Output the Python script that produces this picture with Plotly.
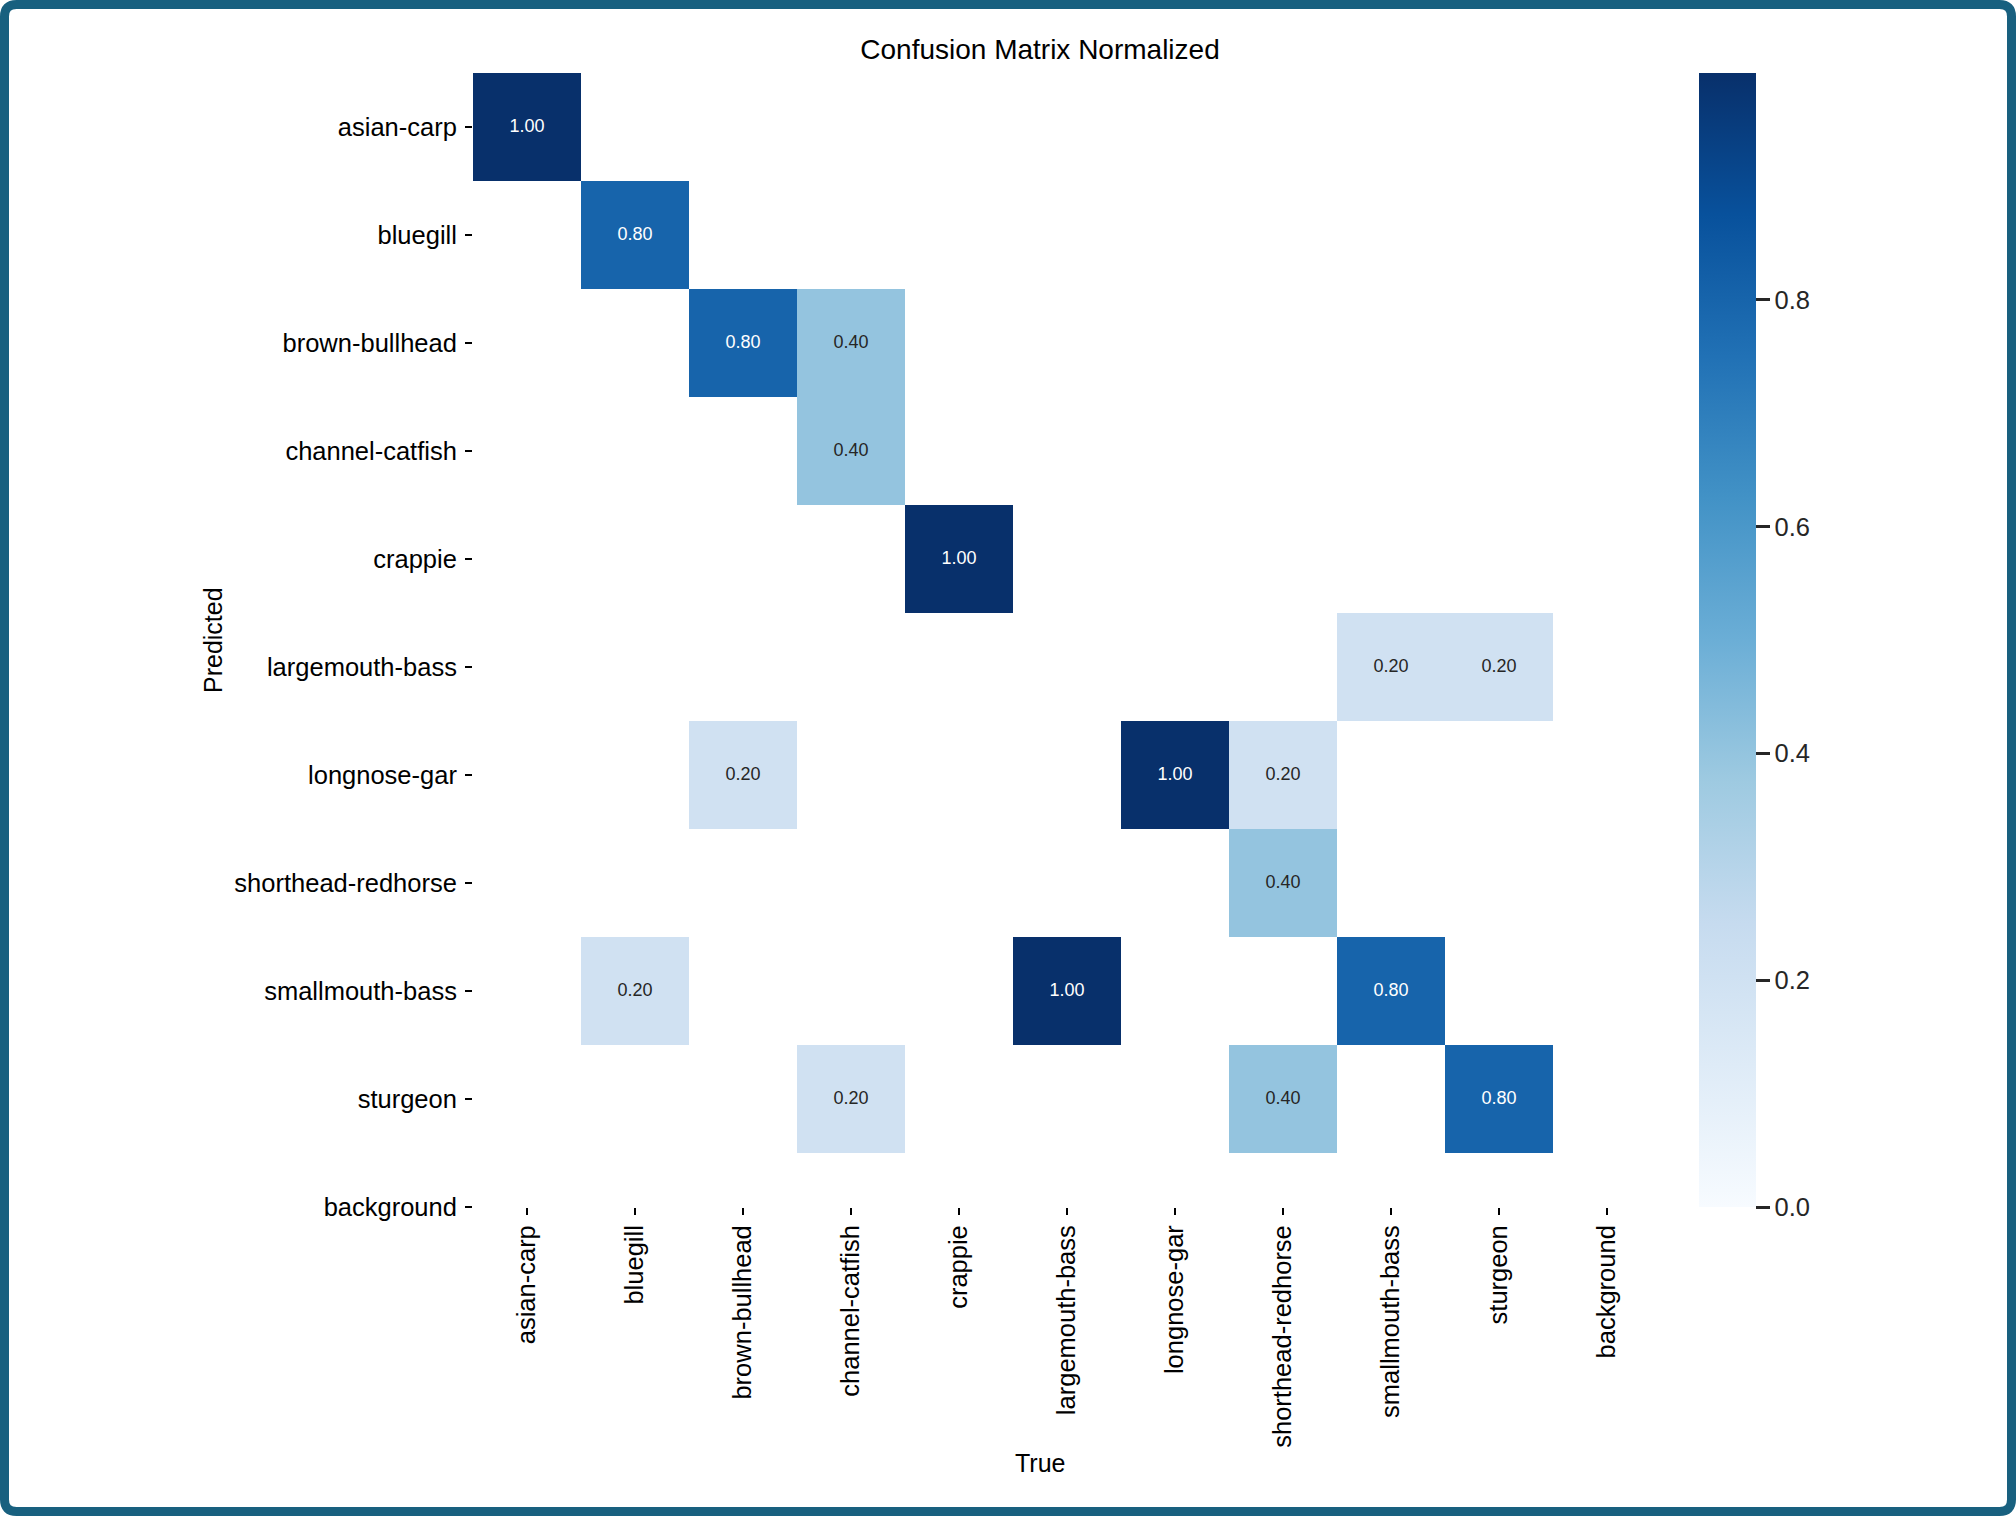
import plotly.graph_objects as go

# ---------------- data ----------------
labels = ["asian-carp", "bluegill", "brown-bullhead", "channel-catfish", "crappie",
          "largemouth-bass", "longnose-gar", "shorthead-redhorse", "smallmouth-bass",
          "sturgeon", "background"]

# rows = Predicted, columns = True
row_asian_carp      = [1.00, 0, 0, 0, 0, 0, 0, 0, 0, 0, 0]
row_bluegill        = [0, 0.80, 0, 0, 0, 0, 0, 0, 0, 0, 0]
row_brown_bullhead  = [0, 0, 0.80, 0.40, 0, 0, 0, 0, 0, 0, 0]
row_channel_catfish = [0, 0, 0, 0.40, 0, 0, 0, 0, 0, 0, 0]
row_crappie         = [0, 0, 0, 0, 1.00, 0, 0, 0, 0, 0, 0]
row_largemouth_bass = [0, 0, 0, 0, 0, 0, 0, 0, 0.20, 0.20, 0]
row_longnose_gar    = [0, 0, 0.20, 0, 0, 0, 1.00, 0.20, 0, 0, 0]
row_shorthead       = [0, 0, 0, 0, 0, 0, 0, 0.40, 0, 0, 0]
row_smallmouth_bass = [0, 0.20, 0, 0, 0, 1.00, 0, 0, 0.80, 0, 0]
row_sturgeon        = [0, 0, 0, 0.20, 0, 0, 0, 0.40, 0, 0.80, 0]
row_background      = [0, 0, 0, 0, 0, 0, 0, 0, 0, 0, 0]

matrix = [row_asian_carp, row_bluegill, row_brown_bullhead, row_channel_catfish,
          row_crappie, row_largemouth_bass, row_longnose_gar, row_shorthead,
          row_smallmouth_bass, row_sturgeon, row_background]

cbar_ticks = [0.0, 0.2, 0.4, 0.6, 0.8]

# ---------------- styling ----------------
blues = [[0.0, "#f7fbff"], [0.125, "#deebf7"], [0.25, "#c6dbef"], [0.375, "#9ecae1"],
         [0.5, "#6baed6"], [0.625, "#4292c6"], [0.75, "#2171b5"], [0.875, "#08519c"],
         [1.0, "#08306b"]]
FONT = "Liberation Sans, Arial, sans-serif"

W, H = 2016, 1516
ML, MR, MT, MB = 473, 409, 73, 309
PW, PH = W - ML - MR, H - MT - MB


def px(xp):
    return (xp - ML) / PW


def py(yp):
    return (H - MB - yp) / PH


n = len(labels)
idx = list(range(n))
z = [[(v if v > 0.005 else None) for v in row] for row in matrix]

fig = go.Figure()
fig.add_trace(go.Heatmap(
    x=idx, y=idx, z=z, zmin=0.0, zmax=1.0, colorscale=blues,
    hoverongaps=False,
    colorbar=dict(
        thickness=57, thicknessmode="pixels",
        len=1.0, lenmode="fraction",
        xref="paper", x=px(1699), xanchor="left", xpad=0,
        yref="paper", y=0.0, yanchor="bottom", ypad=0,
        outlinewidth=0,
        tickvals=cbar_ticks, ticktext=[f"{t:.1f}" for t in cbar_ticks],
        ticks="outside", ticklen=14, tickwidth=3, tickcolor="#262626",
        tickfont=dict(family=FONT, size=25.5, color="#262626"),
    ),
))

# cell texts
tx, ty, tt, tc = [], [], [], []
for r, row in enumerate(matrix):
    for c, v in enumerate(row):
        if v > 0.005:
            tx.append(c)
            ty.append(r)
            tt.append(f"{v:.2f}")
            tc.append("#ffffff" if v >= 0.6 else "#262626")
fig.add_trace(go.Scatter(x=tx, y=ty, mode="text", text=tt,
                         textfont=dict(family=FONT, size=18, color=tc),
                         hoverinfo="skip", showlegend=False))

fig.update_xaxes(range=[-0.5, 10.0], tickvals=idx, ticktext=labels, tickangle=-90,
                 ticks="outside", ticklen=7, tickwidth=2, tickcolor="#000000",
                 ticklabelstandoff=0,
                 tickfont=dict(family=FONT, size=25.5, color="#000000"),
                 showgrid=False, zeroline=False, showline=False)
fig.update_yaxes(range=[10.0, -0.5], tickvals=idx, ticktext=labels,
                 ticks="outside", ticklen=7, tickwidth=2, tickcolor="#000000",
                 ticklabelstandoff=3,
                 tickfont=dict(family=FONT, size=25.5, color="#000000"),
                 showgrid=False, zeroline=False, showline=False)

# border frame with rounded corners (paper coords computed from pixels)
inset, rad = 4.5, 12
x0, x1, y0, y1 = inset, W - inset, inset, H - inset
path = (f"M {px(x0 + rad)},{py(y0)} L {px(x1 - rad)},{py(y0)} "
        f"Q {px(x1)},{py(y0)} {px(x1)},{py(y0 + rad)} "
        f"L {px(x1)},{py(y1 - rad)} Q {px(x1)},{py(y1)} {px(x1 - rad)},{py(y1)} "
        f"L {px(x0 + rad)},{py(y1)} Q {px(x0)},{py(y1)} {px(x0)},{py(y1 - rad)} "
        f"L {px(x0)},{py(y0 + rad)} Q {px(x0)},{py(y0)} {px(x0 + rad)},{py(y0)} Z")
fig.add_shape(type="path", xref="paper", yref="paper", path=path,
              line=dict(color="#18607f", width=9), fillcolor="rgba(0,0,0,0)", layer="above")

fig.add_annotation(text="Predicted", xref="paper", yref="paper",
                   x=px(213), y=py(640), textangle=-90, showarrow=False,
                   xanchor="center", yanchor="middle",
                   font=dict(family=FONT, size=25, color="#000000"))
fig.add_annotation(text="True", xref="paper", yref="paper",
                   x=px(1040), y=py(1463), showarrow=False,
                   xanchor="center", yanchor="middle",
                   font=dict(family=FONT, size=25, color="#000000"))

fig.update_layout(
    width=W, height=H,
    margin=dict(l=ML, r=MR, t=MT, b=MB, autoexpand=False),
    paper_bgcolor="#ffffff", plot_bgcolor="#ffffff",
    title=dict(text="Confusion Matrix Normalized", x=px(1040), xref="paper",
               xanchor="center", y=1 - 49 / H, yref="container", yanchor="middle",
               font=dict(family=FONT, size=28, color="#000000")),
    showlegend=False,
)

fig.write_html("out.html", config={"displayModeBar": False},
               post_script="document.body.style.margin='0';document.body.style.overflow='hidden';")
